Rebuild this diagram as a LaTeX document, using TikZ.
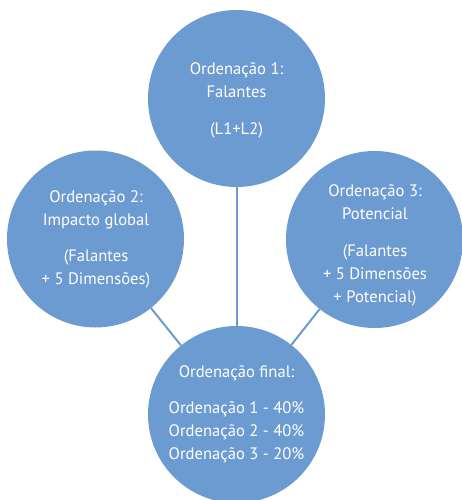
\documentclass[tikz,border=0pt]{standalone}
\usepackage{fontspec}
\setmainfont{PT Sans}
\definecolor{bubblue}{RGB}{108,155,210}
\begin{document}
\begin{tikzpicture}[x=1pt,y=-1pt,
  bubble/.style={circle,fill=bubblue,minimum size=177pt,inner sep=0pt},
  link/.style={draw=bubblue,line width=2pt},
  txt/.style={text=white,align=center,font=\fontsize{16.6}{23}\selectfont,inner sep=0pt}]
\useasboundingbox (0,0) rectangle (462,500);
\node[bubble] (c1) at (236.5,98.5) {};
\node[bubble] (c2) at (95.5,239) {};
\node[bubble] (c3) at (374.5,239.5) {};
\node[bubble] (c4) at (236.5,414.5) {};
\draw[link] (c1) -- (c4);
\draw[link] (c2) -- (c4);
\draw[link] (c3) -- (c4);
\node[txt] (t1) at (236.5,100) {Ordenação 1:\\Falantes\\[14pt](L1+L2)};
\node[txt] (t2) at (96,239.5) {Ordenação 2:\\Impacto global\\[13pt](Falantes\\+ 5 Dimensões)};
\node[txt] (t3) at (375,245) {Ordenação 3:\\Potencial\\[14pt](Falantes\\+ 5 Dimensões\\+ Potencial)};
\node[txt] (t4) at (236.5,414.5) {Ordenação final:\\[13pt]Ordenação 1 - 40\%\\Ordenação 2 - 40\%\\Ordenação 3 - 20\%};
\end{tikzpicture}
\end{document}
